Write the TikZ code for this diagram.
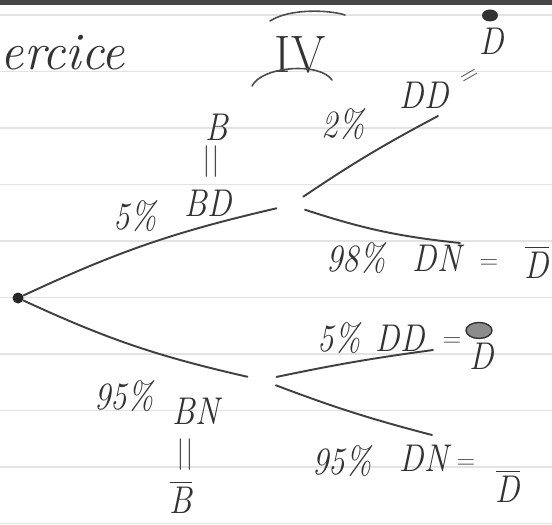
\documentclass[tikz,border=0pt]{standalone}
\usepackage{fontspec}
\usepackage{amsmath}
\usetikzlibrary{positioning,calc}

\begin{document}
\begin{tikzpicture}[x=0.2mm, y=-0.2mm,
  branch/.style={draw=black!75, line width=1.1pt, line cap=round},
  stroke/.style={draw=black!70, line width=0.9pt, line cap=round},
  hand/.style={text=black!80, inner sep=0pt, xscale=0.85, transform shape,
               font=\fontsize{22}{22}\selectfont\itshape},
  small/.style={text=black!70, inner sep=0pt, font=\fontsize{14}{14}\selectfont},
  split/.style={circle, inner sep=0pt, minimum size=5.8mm},
  rule/.style={draw=gray!22, line width=0.6pt}
]
\useasboundingbox (0,0) rectangle (552,524);

% Paper
\fill[black!72] (0,0) rectangle (552,5);
\foreach \k in {0,...,9}
  \draw[rule] (0,15+56.5*\k) -- (552,15+56.5*\k);

% Title
\node[hand, xscale=1.15, font=\fontsize{30}{30}\selectfont\itshape] (ex) at (63,53) {ercice};
\node[hand, xscale=1.1, font=\fontsize{30}{30}\selectfont] (num) at (300,55) {IV};
\draw[stroke] (270,21) .. controls (290,8) and (330,10) .. (345,15);
\draw[stroke] (252,86) .. controls (262,66) and (320,62) .. (332,80);

% Tree nodes
\node[circle, fill=black!85, inner sep=0pt, minimum size=2.2mm] (root) at (18,298) {};
\node[split] (up)  at (291,205) {};
\node[split] (low) at (262,380) {};
\coordinate (dd1) at (438,116);
\coordinate (dn1) at (460,243);
\coordinate (dd2) at (433,350);
\coordinate (dn2) at (432,435);

% Branches
\draw[branch] (root) to[bend left=6] (up);
\draw[branch] (root) to[bend right=6] (low);
\draw[branch] (up) to[bend left=3] (dd1);
\draw[branch] (up) to[bend right=6] (dn1);
\draw[branch] (low) to[bend left=2] (dd2);
\draw[branch] (low) to[bend right=3] (dn2);

% First level: 5% BD, 95% BN
\node[hand] (b)    at (217,127) {B};
\node[small, font=\fontsize{18}{18}\selectfont] (eq1) at (211,162) {||};
\node[hand] (p5)   at (135,216) {5\%};
\node[hand] (bd)   at (208,203) {BD};
\node[hand] (p95)  at (124,396) {95\%};
\node[hand] (bn)   at (196,411) {BN};
\node[small, font=\fontsize{18}{18}\selectfont] (eq2) at (185,455) {||};
\node[hand] (bbar) at (181,497) {$\overline{\text{\itshape B}}$};

% Second level, upper
\node[hand] (p2)  at (343,124) {2\%};
\node[hand] (dd)  at (424,95) {DD};
\node[small, rotate=30] (eq3) at (470,77) {=};
\node[hand] (d1) at (492,41) {D};
\fill[black!80] ($(d1.north)+(-2,-12)$) ellipse (8 and 6);
\node[hand] (p98) at (356,258) {98\%};
\node[hand] (dn)  at (437,258) {DN};
\node[small] (eq4) at (489,264) {=};
\node[hand] (d2)  at (537,262) {$\overline{\text{\itshape D}}$};

% Second level, lower
\node[hand] (p5b) at (339,338) {5\%};
\node[hand] (ddb) at (400,338) {DD};
\node[small] (eq5) at (452,342) {=};
\node[hand] (d3)  at (482,356) {D};
\filldraw[fill=black!45, draw=black!80, line width=0.8pt] ($(d3.north)+(-3,-12)$) ellipse (13 and 8);
\node[hand] (p95b) at (342,461) {95\%};
\node[hand] (dnb)  at (424,458) {DN};
\node[small] (eq6) at (466,464) {=};
\node[hand] (d4)  at (508,486) {$\overline{\text{\itshape D}}$};

\end{tikzpicture}
\end{document}
